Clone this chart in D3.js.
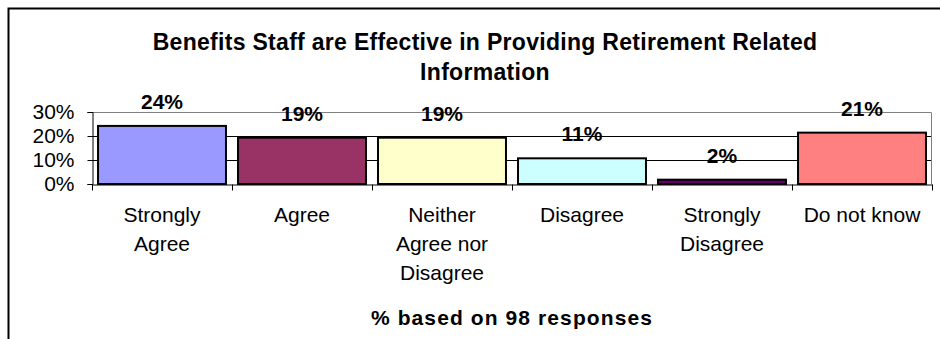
<!DOCTYPE html>
<html>
<head>
<meta charset="utf-8">
<script src="https://cdn.jsdelivr.net/npm/d3@7"></script>
<style>
  html, body { margin: 0; padding: 0; background: #fff; }
  svg { display: block; font-family: "Liberation Sans", Arial, sans-serif; }
</style>
</head>
<body>
<svg id="chart" width="940" height="339"></svg>
<script>
const categories = [["Strongly", "Agree"], ["Agree"], ["Neither", "Agree nor", "Disagree"], ["Disagree"], ["Strongly", "Disagree"], ["Do not know"]];
const values = [24.2, 19.3, 19.3, 10.7, 1.8, 21.4];
const valueLabels = ["24%", "19%", "19%", "11%", "2%", "21%"];
const colors = ["#9999FF", "#993366", "#FFFFCC", "#CCFFFF", "#660066", "#FF8080"];
const yTicks = [0, 10, 20, 30];
const titleLines = ["Benefits Staff are Effective in Providing Retirement Related", "Information"];
const xTitle = "% based on 98 responses";

const svg = d3.select("#chart");
const plot = { left: 92, right: 932, top: 112, bottom: 184 };

// outer chart border
svg.append("rect").attr("x", 8.5).attr("y", 8.5).attr("width", 1000).attr("height", 1000)
  .attr("fill", "#fff").attr("stroke", "#000").attr("stroke-width", 2);

const idx = d3.range(values.length);
const x = d3.scaleBand().domain(idx).range([plot.left, plot.right]).paddingInner(0.086).paddingOuter(0.043);
const xOuter = d3.scaleBand().domain(idx).range([plot.left, plot.right]);
const y = d3.scaleLinear().domain([0, 30]).range([plot.bottom, plot.top]);

// gridlines
svg.append("g").selectAll("line").data(yTicks.filter(t => t > 0 && t < 30)).join("line")
  .attr("x1", plot.left).attr("x2", plot.right)
  .attr("y1", d => Math.round(y(d)) + 0.5).attr("y2", d => Math.round(y(d)) + 0.5)
  .attr("stroke", "#000").attr("stroke-width", 1);

// plot area border (gray top & right)
svg.append("path")
  .attr("d", `M${plot.left},${plot.top + 0.5}H${plot.right - 0.5}V${plot.bottom}`)
  .attr("fill", "none").attr("stroke", "#808080").attr("stroke-width", 1);

// bars
svg.append("g").selectAll("rect").data(values).join("rect")
  .attr("x", (d, i) => x(i)).attr("width", x.bandwidth())
  .attr("y", d => y(d)).attr("height", d => y(0) - y(d))
  .attr("fill", (d, i) => colors[i]).attr("stroke", "#000").attr("stroke-width", 2);

// value labels
svg.append("g").selectAll("text").data(values).join("text")
  .attr("x", (d, i) => x(i) + x.bandwidth() / 2).attr("y", d => y(d) - 17)
  .attr("text-anchor", "middle").attr("font-weight", "bold").attr("font-size", 21)
  .attr("fill", "#000").text((d, i) => valueLabels[i]);

// y axis
const yAxis = d3.axisLeft(y).tickValues(yTicks).tickFormat(d => d + "%").tickSize(5).tickPadding(13);
const gy = svg.append("g").attr("transform", `translate(${plot.left + 0.5},0)`).call(yAxis);
gy.select(".domain").attr("stroke", "#000");
gy.selectAll(".tick line").attr("stroke", "#000");
gy.selectAll(".tick text").attr("font-size", 21).attr("fill", "#000")
  .attr("font-family", "Liberation Sans, Arial, sans-serif");

// x axis
const xAxis = d3.axisBottom(xOuter).tickSize(0).tickFormat("");
const gx = svg.append("g").attr("transform", `translate(0,${plot.bottom + 0.5})`).call(xAxis);
gx.select(".domain").attr("stroke", "#000");
gx.selectAll(".tick").remove();
// boundary ticks
const bounds = d3.range(values.length + 1).map(i => i < values.length ? xOuter(i) : plot.right);
gx.selectAll("line.bt").data(bounds).join("line").attr("class", "bt")
  .attr("x1", d => Math.round(d) + 0.5).attr("x2", d => Math.round(d) + 0.5)
  .attr("y1", 0).attr("y2", 6).attr("stroke", "#000");

// category labels
const catG = svg.append("g");
categories.forEach((lines, i) => {
  const t = catG.append("text").attr("text-anchor", "middle").attr("font-size", 21).attr("fill", "#000");
  lines.forEach((ln, j) => {
    t.append("tspan").attr("x", xOuter(i) + xOuter.bandwidth() / 2).attr("y", 222 + j * 29).text(ln);
  });
});

// title
svg.append("g").selectAll("text").data(titleLines).join("text")
  .attr("x", 485).attr("y", (d, i) => 50 + i * 30)
  .attr("text-anchor", "middle").attr("font-weight", "bold").attr("font-size", 23)
  .attr("letter-spacing", 0.3)
  .attr("fill", "#000").text(d => d);

// x title
svg.append("text").attr("x", (plot.left + plot.right) / 2).attr("y", 325)
  .attr("text-anchor", "middle").attr("font-weight", "bold").attr("font-size", 21)
  .attr("letter-spacing", 1.1)
  .attr("fill", "#000").text(xTitle);
</script>
</body>
</html>
